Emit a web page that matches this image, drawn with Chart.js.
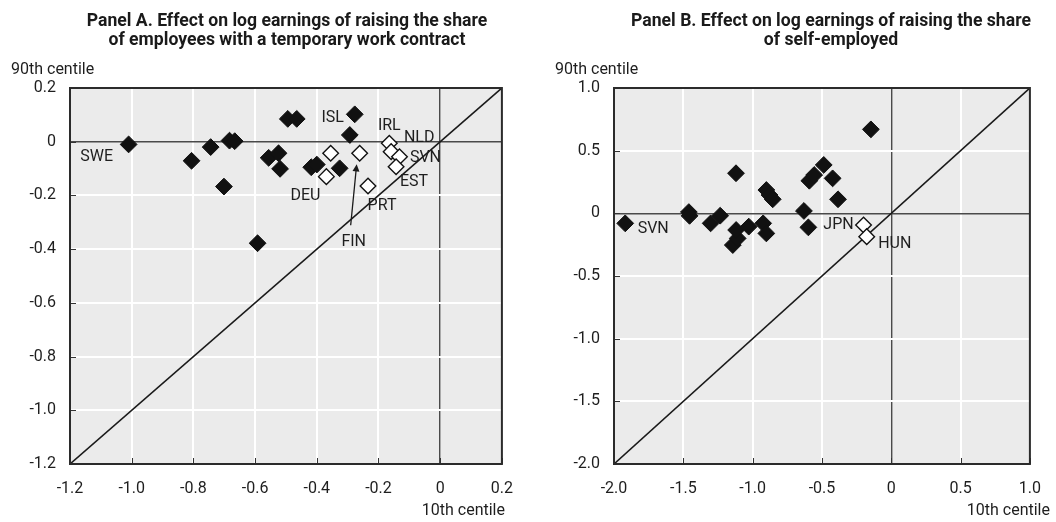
<!DOCTYPE html>
<html>
<head>
<meta charset="utf-8">
<script src="https://cdn.jsdelivr.net/npm/chart.js@4.4.1/dist/chart.umd.min.js"></script>
<style>
  html, body { margin: 0; padding: 0; background: #fff; }
  #wrap { position: relative; width: 1056px; height: 522px; overflow: hidden;
          font-family: Roboto, 'Liberation Sans', sans-serif; color: #1e1e1e; }
  .panel { position: absolute; top: 0; width: 528px; height: 522px; }
  .panel canvas { position: absolute; left: 0; top: 0; }
  .title { position: absolute; top: 11px; font-weight: bold; font-size: 17.6px; line-height: 19px;
           text-align: center; white-space: nowrap; transform: translateX(-50%); color: #1a1a1a; }
  .ylab { position: absolute; top: 59px; font-size: 16px; line-height: 20px; white-space: nowrap; }
  .xlab { position: absolute; top: 500px; font-size: 16px; line-height: 20px; white-space: nowrap; transform: translateX(-100%); }
</style>
</head>
<body>
<div id="wrap">
  <div class="panel" style="left:0">
    <canvas id="chartA" width="528" height="522"></canvas>
  </div>
  <div class="panel" style="left:528px">
    <canvas id="chartB" width="528" height="522"></canvas>
  </div>
  <div class="title" style="left:287px">Panel A. Effect on log earnings of raising the share<br>of employees with a temporary work contract</div>
  <div class="title" style="left:831px">Panel B. Effect on log earnings of raising the share<br>of self-employed</div>
  <div class="ylab" style="left:11px">90th centile</div>
  <div class="ylab" style="left:555px">90th centile</div>
  <div class="xlab" style="left:505px">10th centile</div>
  <div class="xlab" style="left:1050px">10th centile</div>
</div>
<script>
// ---- Panel A: share of employees with a temporary work contract ----
// [10th centile effect, 90th centile effect]
const tempCountriesFilled = [
  [-1.010, -0.010], [-0.806, -0.071], [-0.744, -0.020], [-0.683, 0.004],
  [-0.666, 0.002], [-0.701, -0.167], [-0.592, -0.378], [-0.556, -0.060],
  [-0.524, -0.043], [-0.519, -0.101], [-0.494, 0.085], [-0.465, 0.085],
  [-0.418, -0.095], [-0.400, -0.085], [-0.326, -0.099], [-0.293, 0.025],
  [-0.277, 0.102]
];
const tempCountriesOpen = [
  [-0.355, -0.043], [-0.261, -0.043], [-0.369, -0.130], [-0.234, -0.165],
  [-0.165, -0.006], [-0.159, -0.037], [-0.132, -0.056], [-0.143, -0.093]
];
const tempLabelNames = ['SWE', 'ISL', 'IRL', 'NLD', 'SVN', 'EST', 'PRT', 'DEU', 'FIN'];
const tempLabelPoints = [
  [-1.010, -0.010], [-0.277, 0.102], [-0.165, -0.006], [-0.159, -0.037],
  [-0.132, -0.056], [-0.143, -0.093], [-0.234, -0.165], [-0.369, -0.130],
  [-0.261, -0.043]
];
const tempTickLabels = ['-1.2', '-1.0', '-0.8', '-0.6', '-0.4', '-0.2', '0', '0.2'];

// ---- Panel B: share of self-employed ----
const selfCountriesFilled = [
  [-1.919, -0.080], [-1.460, 0.010], [-1.455, -0.020], [-1.303, -0.080],
  [-1.234, -0.019], [-1.143, -0.253], [-1.108, -0.200], [-1.119, -0.133],
  [-1.028, -0.106], [-0.924, -0.080], [-0.901, -0.160], [-1.120, 0.320],
  [-0.901, 0.186], [-0.878, 0.146], [-0.855, 0.112], [-0.630, 0.019],
  [-0.598, -0.112], [-0.591, 0.260], [-0.556, 0.306], [-0.487, 0.386],
  [-0.423, 0.279], [-0.384, 0.112], [-0.147, 0.670]
];
const selfCountriesOpen = [[-0.200, -0.093], [-0.177, -0.186]];
const selfLabelNames = ['SVN', 'JPN', 'HUN'];
const selfLabelPoints = [[-1.919, -0.080], [-0.200, -0.093], [-0.177, -0.186]];
const selfTickLabels = ['-2.0', '-1.5', '-1.0', '-0.5', '0', '0.5', '1.0'];

// label placement, in pixels from the labelled point
const tempLabelShift = {
  SWE: [-32, 13], ISL: [-22, 4], IRL: [0, -17], NLD: [28, -14], SVN: [26, 1],
  EST: [18, 15], PRT: [14, 20], DEU: [-21, 19], FIN: [-6, 89]
};
const selfLabelShift = { SVN: [28, 6], JPN: [-25, 0], HUN: [28, 7] };
// FIN pointer: tail and tip, pixels from the FIN point
const finArrow = { from: [-9, 72], to: [-3, 11] };

const FONT = "Roboto, 'Liberation Sans', sans-serif";
const TEXT = '#1e1e1e';
Chart.defaults.font.family = FONT;
Chart.defaults.color = TEXT;

const toXY = arr => arr.map(([x, y]) => ({ x, y }));

const panelDecor = {
  id: 'panelDecor',
  beforeDraw(chart) {
    const { ctx, chartArea: a } = chart;
    ctx.save();
    ctx.fillStyle = '#ebebeb';
    ctx.fillRect(a.left, a.top, a.right - a.left, a.bottom - a.top);
    ctx.restore();
  },
  afterDatasetsDraw(chart, args, opts) {
    const { ctx, scales: { x, y } } = chart;
    ctx.save();
    ctx.font = '16px ' + FONT;
    ctx.fillStyle = TEXT;
    ctx.textAlign = 'center';
    ctx.textBaseline = 'middle';
    opts.names.forEach((name, i) => {
      const [vx, vy] = opts.points[i];
      const [dx, dy] = opts.shift[name];
      ctx.fillText(name, x.getPixelForValue(vx) + dx, y.getPixelForValue(vy) + dy);
    });
    if (opts.arrow) {
      const [vx, vy] = opts.points[opts.names.indexOf(opts.arrow.name)];
      const px = x.getPixelForValue(vx), py = y.getPixelForValue(vy);
      const x0 = px + opts.arrow.from[0], y0 = py + opts.arrow.from[1];
      const x1 = px + opts.arrow.to[0], y1 = py + opts.arrow.to[1];
      const ang = Math.atan2(y1 - y0, x1 - x0);
      ctx.strokeStyle = '#1a1a1a';
      ctx.lineWidth = 1.3;
      ctx.beginPath();
      ctx.moveTo(x0, y0);
      ctx.lineTo(x1 - Math.cos(ang) * 6, y1 - Math.sin(ang) * 6);
      ctx.stroke();
      ctx.fillStyle = '#1a1a1a';
      ctx.beginPath();
      ctx.moveTo(x1, y1);
      ctx.lineTo(x1 - Math.cos(ang - 0.45) * 8, y1 - Math.sin(ang - 0.45) * 8);
      ctx.lineTo(x1 - Math.cos(ang + 0.45) * 8, y1 - Math.sin(ang + 0.45) * 8);
      ctx.closePath();
      ctx.fill();
    }
    ctx.restore();
  },
  afterDraw(chart) {
    const { ctx, chartArea: a, scales: { x, y } } = chart;
    ctx.save();
    ctx.strokeStyle = '#333';
    ctx.lineWidth = 1;
    ctx.beginPath();
    x.ticks.forEach((t, i) => {
      const p = Math.round(x.getPixelForTick(i)) + 0.5;
      ctx.moveTo(p, a.bottom); ctx.lineTo(p, a.bottom - 6);
    });
    y.ticks.forEach((t, i) => {
      const p = Math.round(y.getPixelForTick(i)) + 0.5;
      ctx.moveTo(a.left, p); ctx.lineTo(a.left + 6, p);
    });
    ctx.stroke();
    ctx.strokeStyle = '#2b2b2b';
    ctx.lineWidth = 2;
    ctx.strokeRect(a.left, a.top, a.right - a.left, a.bottom - a.top);
    ctx.restore();
  }
};

function makePanel(id, cfg) {
  const gridColor = c => (Math.abs(c.tick.value) < 1e-9 ? '#4a4a4a' : '#ffffff');
  const gridWidth = c => (Math.abs(c.tick.value) < 1e-9 ? 1.4 : 2);
  const axis = (labels, pos) => ({
    type: 'linear',
    position: pos,
    min: cfg.min, max: cfg.max,
    grid: { color: gridColor, lineWidth: gridWidth, drawTicks: false },
    border: { display: false },
    ticks: {
      stepSize: cfg.step,
      padding: pos === 'left' ? 14 : 15,
      color: TEXT,
      font: { size: 16 },
      maxRotation: 0,
      autoSkip: false,
      callback: (v, i) => labels[i]
    },
    afterFit: s => {
      if (pos === 'left') s.width = cfg.left;
      else s.height = 522 - 464;
    }
  });
  return new Chart(document.getElementById(id), {
    type: 'scatter',
    data: {
      datasets: [
        {
          data: toXY(cfg.filled),
          pointStyle: 'rectRot', pointRadius: 8.4, pointHoverRadius: 8.4,
          backgroundColor: '#111', borderColor: '#111', borderWidth: 1, order: 1
        },
        {
          data: toXY(cfg.open),
          pointStyle: 'rectRot', pointRadius: 7.8, pointHoverRadius: 7.8,
          backgroundColor: '#fff', borderColor: '#111', borderWidth: 1.4, order: 0
        },
        {
          type: 'line',
          data: [{ x: cfg.min, y: cfg.min }, { x: cfg.max, y: cfg.max }],
          borderColor: '#1a1a1a', borderWidth: 1.6, pointRadius: 0, order: 2
        }
      ]
    },
    options: {
      responsive: false,
      animation: false,
      events: [],
      layout: { padding: { left: 0, right: cfg.right, top: 88, bottom: 0 } },
      scales: { x: axis(cfg.tickLabels, 'bottom'), y: axis(cfg.tickLabels, 'left') },
      plugins: {
        legend: { display: false },
        tooltip: { enabled: false },
        panelDecor: { names: cfg.names, points: cfg.points, shift: cfg.shift, arrow: cfg.arrow }
      }
    },
    plugins: [panelDecor]
  });
}

makePanel('chartA', {
  min: -1.2, max: 0.2, step: 0.2, left: 70, right: 23,
  filled: tempCountriesFilled, open: tempCountriesOpen, tickLabels: tempTickLabels,
  names: tempLabelNames, points: tempLabelPoints, shift: tempLabelShift,
  arrow: { name: 'FIN', from: finArrow.from, to: finArrow.to }
});
makePanel('chartB', {
  min: -2, max: 1, step: 0.5, left: 86, right: 7,
  filled: selfCountriesFilled, open: selfCountriesOpen, tickLabels: selfTickLabels,
  names: selfLabelNames, points: selfLabelPoints, shift: selfLabelShift, arrow: null
});
</script>
</body>
</html>
